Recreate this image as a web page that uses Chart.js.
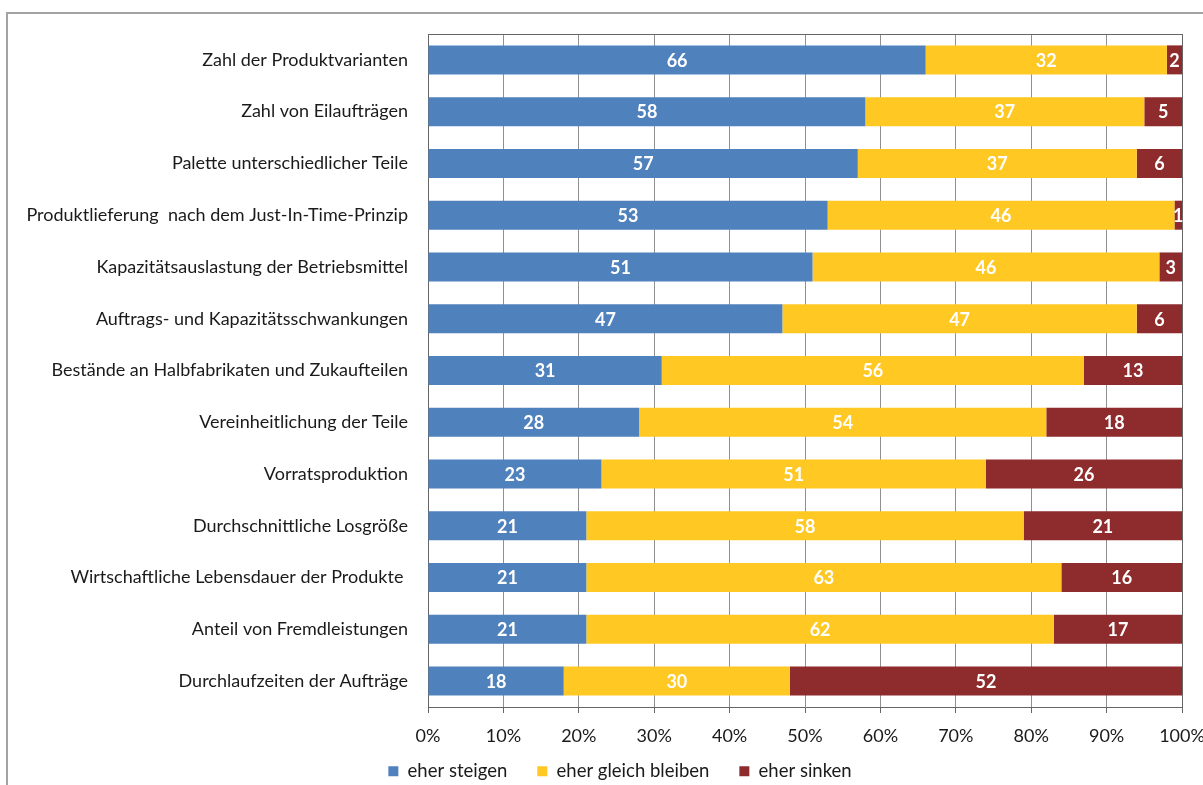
<!DOCTYPE html>
<html lang="de">
<head>
<meta charset="utf-8">
<title>Erwartete Entwicklung</title>
<script src="https://cdn.jsdelivr.net/npm/chart.js@4.4.1/dist/chart.umd.min.js"></script>
<style>
    html, body { margin: 0; padding: 0; background: #fff; overflow: hidden; }
    #frame { position: absolute; left: 6px; top: 12px; width: 1300px; height: 900px; border: 2px solid #a3a3a3; }
    #wrap { position: absolute; left: 0; top: 0; width: 1203px; height: 785px; }
</style>
</head>
<body>
<div id="frame"></div>
<div id="wrap"><canvas id="barChart" width="1203" height="785"></canvas></div>
<script>
// Kategorien (von oben nach unten)
const categories = [
    'Zahl der Produktvarianten',
    'Zahl von Eilaufträgen',
    'Palette unterschiedlicher Teile',
    'Produktlieferung  nach dem Just-In-Time-Prinzip',
    'Kapazitätsauslastung der Betriebsmittel',
    'Auftrags- und Kapazitätsschwankungen',
    'Bestände an Halbfabrikaten und Zukaufteilen',
    'Vereinheitlichung der Teile',
    'Vorratsproduktion',
    'Durchschnittliche Losgröße',
    'Wirtschaftliche Lebensdauer der Produkte ',
    'Anteil von Fremdleistungen',
    'Durchlaufzeiten der Aufträge'
];

// Anteile in Prozent
const steigen = [66, 58, 57, 53, 51, 47, 31, 28, 23, 21, 21, 21, 18];
const gleichBleiben = [32, 37, 37, 46, 46, 47, 56, 54, 51, 58, 63, 62, 30];
const sinken = [2, 5, 6, 1, 3, 6, 13, 18, 26, 21, 16, 17, 52];

const seriesNames = ['eher steigen', 'eher gleich bleiben', 'eher sinken'];
const tickValues = [0, 10, 20, 30, 40, 50, 60, 70, 80, 90, 100];

const colors = ['#4f81bd', '#ffc823', '#8e2b2d'];
const fontFamily = 'Lato, "Open Sans", sans-serif';

// Zahlen mittig in die Balkensegmente schreiben
const segmentLabels = {
    id: 'segmentLabels',
    afterDatasetsDraw(chart) {
        const ctx = chart.ctx;
        ctx.save();
        ctx.font = 'bold 18px ' + fontFamily;
        ctx.fillStyle = '#ffffff';
        ctx.textAlign = 'center';
        ctx.textBaseline = 'middle';
        chart.data.datasets.forEach((ds, i) => {
            const meta = chart.getDatasetMeta(i);
            meta.data.forEach((bar, j) => {
                const cx = (bar.x + bar.base) / 2;
                ctx.fillText(String(ds.data[j]), cx, bar.y + 1);
            });
        });
        ctx.restore();
    }
};

// Rahmen oben und rechts um die Zeichenfläche
const plotFrame = {
    id: 'plotFrame',
    beforeDatasetsDraw(chart) {
        const {ctx, chartArea} = chart;
        ctx.save();
        ctx.strokeStyle = '#666666';
        ctx.lineWidth = 1;
        ctx.beginPath();
        ctx.moveTo(chartArea.left, chartArea.top + 0.5);
        ctx.lineTo(chartArea.right + 0.5, chartArea.top + 0.5);
        ctx.lineTo(chartArea.right + 0.5, chartArea.bottom);
        ctx.stroke();
        ctx.restore();
    }
};

// Legende mittig unter der ganzen Grafik, etwas höher
const legendShift = {
    id: 'legendShift',
    afterLayout(chart) {
        const lg = chart.legend;
        if (!lg) return;
        const dx = 620 - (lg.left + lg.right) / 2;
        lg.left += dx;
        lg.right += dx;
        lg.top -= 15;
    }
};

function createStackedChart() {
    const ctx = document.getElementById('barChart').getContext('2d');
    new Chart(ctx, {
        type: 'bar',
        data: {
            labels: categories,
            datasets: [steigen, gleichBleiben, sinken].map((values, i) => ({
                label: seriesNames[i],
                data: values,
                backgroundColor: colors[i],
                borderWidth: 0,
                barPercentage: 0.56,
                categoryPercentage: 1.0
            }))
        },
        options: {
            indexAxis: 'y',
            responsive: false,
            animation: false,
            layout: {
                padding: { top: 34, left: 10, right: 21, bottom: 0 }
            },
            plugins: {
                tooltip: { enabled: false },
                legend: {
                    position: 'bottom',
                    maxHeight: 38,
                    labels: {
                        boxWidth: 10,
                        boxHeight: 10,
                        padding: 30,
                        color: '#1a1a1a',
                        font: { family: fontFamily, size: 18.5 }
                    }
                }
            },
            scales: {
                x: {
                    stacked: true,
                    min: 0,
                    max: 100,
                    afterBuildTicks: (scale) => {
                        scale.ticks = tickValues.map(v => ({ value: v }));
                    },
                    afterFit: (scale) => {
                        scale.height = 40;
                        scale.paddingLeft = 0;
                        scale.paddingRight = 0;
                    },
                    ticks: {
                        padding: 12,
                        maxRotation: 0,
                        color: '#1a1a1a',
                        font: { family: fontFamily, size: 18 },
                        callback: (value) => value + '%'
                    },
                    grid: {
                        color: '#909090',
                        tickLength: 6,
                        tickColor: '#666666'
                    },
                    border: { color: '#666666' }
                },
                y: {
                    stacked: true,
                    afterFit: (scale) => { scale.width = 428 - 10; },
                    ticks: {
                        padding: 20,
                        color: '#1a1a1a',
                        font: { family: fontFamily, size: 18 }
                    },
                    grid: { display: false, drawTicks: false },
                    border: { display: true, color: '#666666' }
                }
            }
        },
        plugins: [plotFrame, segmentLabels, legendShift]
    });
}

window.addEventListener('load', createStackedChart);
</script>
</body>
</html>
